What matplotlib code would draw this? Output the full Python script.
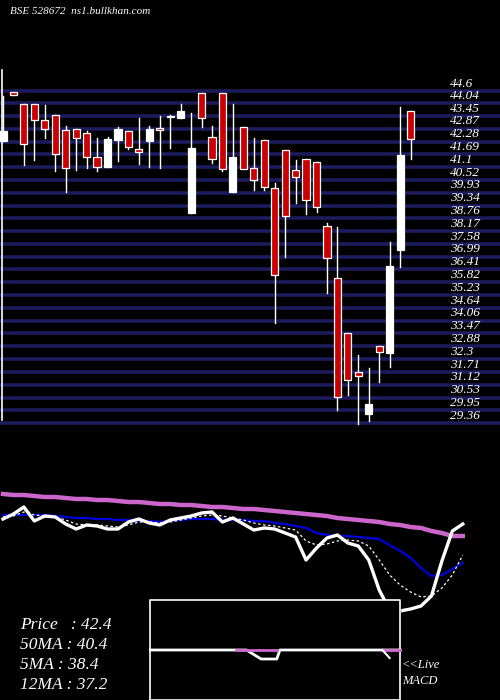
import matplotlib
matplotlib.use("Agg")
import matplotlib.pyplot as plt
import numpy as np

opens  = [42.31,44.56,44.01,44.01,43.27,43.50,42.81,42.86,42.68,41.57,41.11,42.35,42.77,41.94,42.31,42.90,43.41,43.36,39.00,44.51,
          42.49,44.51,39.97,42.95,41.07,42.35,40.15,41.89,40.98,41.48,41.34,38.41,36.02,33.50,31.71,29.78,32.90,32.58,37.30,43.69]
highs  = [44.37,44.56,44.01,44.01,43.96,43.50,43.00,42.86,42.77,42.45,42.49,42.95,42.77,43.36,43.00,43.46,43.50,44.01,43.59,44.51,
          43.00,44.51,44.01,42.95,42.45,42.35,40.38,41.89,41.44,41.48,41.34,38.54,38.36,33.50,32.49,31.89,32.90,37.67,43.87,43.69]
lows   = [42.31,44.42,41.21,41.44,42.45,40.93,39.97,40.98,41.07,40.93,41.11,41.39,41.94,41.25,41.11,41.07,41.99,43.36,39.00,42.95,
          41.30,40.93,39.97,41.02,40.06,40.06,33.95,36.98,39.46,38.96,39.05,35.33,29.96,30.65,29.32,29.46,31.25,31.93,36.52,41.48]
closes = [42.77,44.42,42.17,43.27,42.86,41.71,41.07,42.45,41.57,41.11,42.40,42.86,42.03,41.80,42.86,42.81,43.46,43.69,41.99,43.36,
          41.48,41.02,41.57,41.02,40.52,40.20,36.16,38.87,40.66,39.60,39.28,36.94,30.56,31.34,31.52,30.24,32.62,36.57,41.67,42.40]

price_labels = ["44.6","44.04","43.45","42.87","42.28","41.69","41.1","40.52","39.93","39.34","38.76","38.17","37.58","36.99",
                "36.41","35.82","35.23","34.64","34.06","33.47","32.88","32.3","31.71","31.12","30.53","29.95","29.36"]

# lower indicator panel (screen-like units, larger = lower)
ma_long  = [494,495,495,496,497,497,498,499,499,500,500,501,502,502,503,504,504,505,505,506,507,507,508,509,509,
            510,511,512,513,514,515,516,518,519,520,521,522,524,525,527,528,531,533,536,536]
ma_mid   = [515,515,515,515,515,516,517,518,518,519,519,520,520,521,521,522,521,520,519,519,519,520,520,520,521,
            521,523,524,526,528,533,535,536,536,537,538,539,545,551,558,568,576,575,569,563]
ma_fast  = [519,514,507,521,516,517,524,529,525,526,529,529,522,519,523,525,520,518,516,513,512,522,518,524,530,
            528,529,533,537,560,548,538,535,543,546,560,590,610,611,609,606,596,561,531,524]
ma_short = [517,516,512,515,516,517,520,524,525,525,526,527,525,522,522,523,522,520,518,516,515,516,518,520,523,
            525,526,528,530,541,545,544,541,540,541,546,560,575,585,592,597,596,588,575,555]
macd_x = [14.1,22.0,23.3,24.7,26.2,26.5,36.3,36.9,38.0]
macd_v = [650,650,650,659,659,650,650,650,650]
signal_x = [22.3,26.2]
signal2_x = [36.3,38.0]

BG = "black"
fig = plt.figure(figsize=(5, 7), dpi=100, facecolor=BG)
W, H = 500, 700
xl = (-3/10.45, (W-3)/10.45)

ax = fig.add_axes([0, 1-430/H, 1, 370/H], facecolor=BG)
p = lambda y: 48.777 - 0.0459*y
ax.set_ylim(p(430), p(60))
ax.set_xlim(*xl)
ax.axis("off")
for lab in price_labels:
    v = float(lab)
    ax.axhline(v, color="#1c1c5c", lw=2.6, zorder=1)
    ax.text(447/10.45, v+0.06, lab, color="white", fontsize=9.5, family="Liberation Serif",
            style="italic", va="bottom", ha="left", zorder=3)
ax.plot([-0.14,-0.14],[p(420),p(70)], color="white", lw=1.2)
for i,(o,h,l,c) in enumerate(zip(opens,highs,lows,closes)):
    up = c >= o
    ax.plot([i,i],[l,h], color="white", lw=1, zorder=2)
    lo, hi = min(o,c), max(o,c)
    ax.bar(i, max(hi-lo,0.05), bottom=lo, width=0.68, color="white" if up else "#cc0000",
           edgecolor="white", lw=0.9, zorder=3)

ax2 = fig.add_axes([0, 0, 1, 220/H], facecolor="none")
ax2.set_ylim(700, 480)
ax2.set_xlim(*xl)
ax2.axis("off")
xi = np.arange(len(ma_long))
ax2.plot(xi, ma_long, color="#cc66cc", lw=3.2)
ax2.plot(xi, ma_mid, color="#0000dd", lw=1.6)
ax2.plot(xi, ma_short, color="white", lw=0.9, ls=(0,(2,2)))
ax2.plot(xi, ma_fast, color="white", lw=2.4)
ax2.fill_between([14.1,38.0],[600,600],[700,700], color=BG, zorder=4)
ax2.plot([14.1,38.0,38.0,14.1,14.1],[700,700,600,600,700], color="white", lw=1.2, zorder=5)
ax2.plot(macd_x, macd_v, color="white", lw=2, zorder=6)
ax2.plot(signal_x, [650,650], color="#cc66cc", lw=2, zorder=7)
ax2.plot(signal2_x, [650,650], color="#cc66cc", lw=2, zorder=7)
ax2.plot([36.3,37.0],[650,658], color="white", lw=1.5, zorder=7)

txt = dict(color="white", family="Liberation Serif", style="italic", fontsize=12.5)
for k,s in enumerate(["Price   : 42.4","50MA : 40.4","5MA : 38.4","12MA : 37.2"]):
    fig.text(20/W, 1-(625+20*k)/H, s, va="center", **txt)
fig.text(402/W, 1-665/H, "<<Live", va="center", color="white", family="Liberation Serif", style="italic", fontsize=9)
fig.text(402/W, 1-681/H, "MACD", va="center", color="white", family="Liberation Serif", style="italic", fontsize=9)
fig.text(10/W, 1-12/H, "BSE 528672  ns1.bullkhan.com", va="center", color="white",
         family="Liberation Serif", style="italic", fontsize=8)
fig.savefig("out.png", dpi=100, facecolor=BG)
